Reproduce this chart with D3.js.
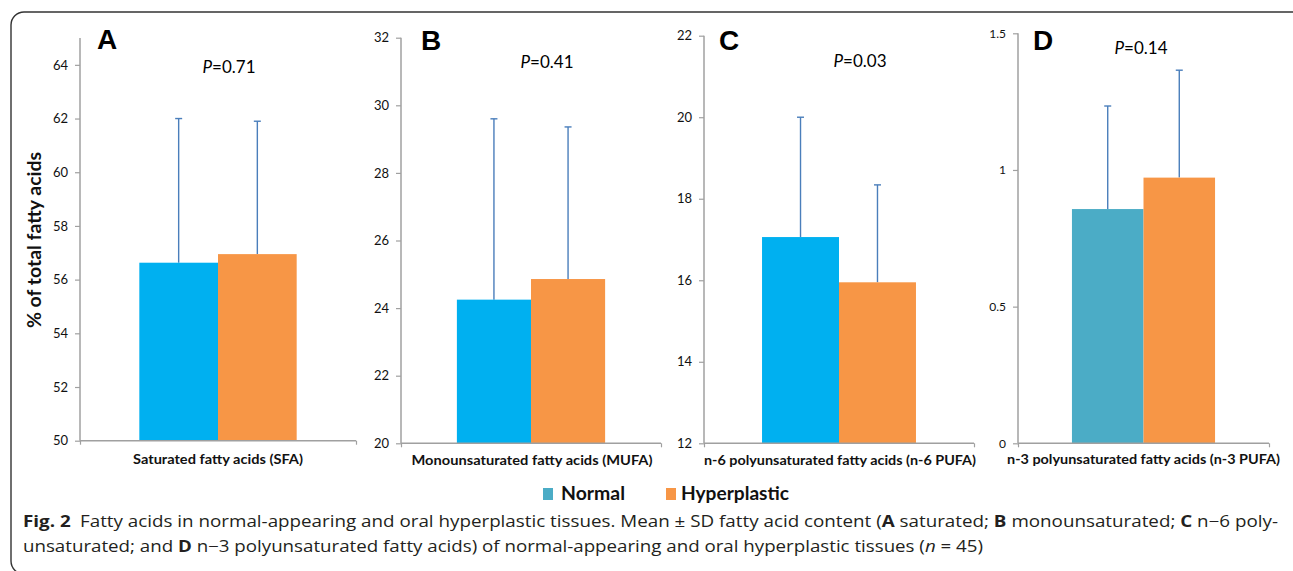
<!DOCTYPE html>
<html>
<head>
<meta charset="utf-8">
<script src="https://cdn.jsdelivr.net/npm/d3@7/dist/d3.min.js"></script>
<style>
  html, body { margin: 0; padding: 0; background: #fff; }
  svg { display: block; }
</style>
</head>
<body>
<svg id="chart" width="1293" height="571"></svg>
<script>
// ---------- data ----------
const categories = [
  "Saturated fatty acids (SFA)",
  "Monounsaturated fatty acids (MUFA)",
  "n-6 polyunsaturated fatty acids (n-6 PUFA)",
  "n-3 polyunsaturated fatty acids (n-3 PUFA)"
];
const panelLetters = ["A", "B", "C", "D"];
const pValues = ["0.71", "0.41", "0.03", "0.14"];
const seriesNames = ["Normal", "Hyperplastic"];
const normalMean = [56.63, 24.25, 17.06, 0.857];
const normalSD = [5.37, 5.35, 2.94, 0.377];
const hyperMean = [56.95, 24.86, 15.95, 0.972];
const hyperSD = [4.95, 4.50, 2.39, 0.393];
const yDomains = [[50, 65], [20, 32], [12, 22], [0, 1.5]];
const yTicks = [
  [50, 52, 54, 56, 58, 60, 62, 64],
  [20, 22, 24, 26, 28, 30, 32],
  [12, 14, 16, 18, 20, 22],
  [0, 0.5, 1, 1.5]
];
const yTitle = "% of total fatty acids";

// ---------- layout (positions/styles) ----------
const layout = [
  { x0: 80,   x1: 356,  yTop: 38.0, yBot: 440.7, letter: [97, 49],   p: [229, 73], xlab: [218, 464],  xlabW: 170, tick: 13 },
  { x0: 401,  x1: 661,  yTop: 37.7, yBot: 443.3, letter: [421, 50],  p: [547, 68], xlab: [532, 465],  xlabW: 241, tick: 13 },
  { x0: 704,  x1: 974,  yTop: 35.7, yBot: 443.3, letter: [719, 49.5], p: [860, 67], xlab: [840, 465], xlabW: 272, tick: 13 },
  { x0: 1018, x1: 1269, yTop: 33.3, yBot: 443.3, letter: [1033, 50], p: [1141, 54], xlab: [1143.5, 464], xlabW: 273, tick: 12 }
];
const normalColors = ["#00b0f0", "#00b0f0", "#00b0f0", "#4bacc6"];
const hyperColor = "#f79646";
const errColor = "#4a7ebb";
const axisColor = "#a0a0a0";
const chartFont = "Lato, 'Open Sans', sans-serif";

const svg = d3.select("#chart");

// outer rounded border
svg.append("rect")
  .attr("x", 11).attr("y", 12).attr("width", 1300).attr("height", 562)
  .attr("rx", 13).attr("ry", 13)
  .attr("fill", "none").attr("stroke", "#333").attr("stroke-width", 1.4);

categories.forEach((cat, i) => {
  const L = layout[i];
  const g = svg.append("g");
  const y = d3.scaleLinear().domain(yDomains[i]).range([L.yBot, L.yTop]);
  const x = d3.scaleBand().domain(seriesNames).range([L.x0, L.x1])
    .paddingInner(0).paddingOuter(0.754);

  // y axis
  const yAxis = d3.axisLeft(y).tickValues(yTicks[i]).tickSize(5).tickPadding(7)
    .tickFormat(d => d3.format("")(d));
  const ya = g.append("g").attr("transform", `translate(${L.x0},0)`).call(yAxis);
  ya.select(".domain").attr("stroke", axisColor).attr("stroke-width", 1.5)
    .attr("d", `M0,${L.yTop}V${L.yBot}`);
  ya.selectAll(".tick line").attr("stroke", axisColor).attr("stroke-width", 1.2);
  ya.selectAll(".tick text").attr("fill", "#111")
    .style("font-family", chartFont).style("font-size", L.tick + "px");

  // bars
  const vals = [
    { s: "Normal", m: normalMean[i], sd: normalSD[i], c: normalColors[i] },
    { s: "Hyperplastic", m: hyperMean[i], sd: hyperSD[i], c: hyperColor }
  ];
  // error bars (upper only; behind bars)
  vals.forEach(v => {
    const cx = x(v.s) + x.bandwidth() / 2;
    g.append("line").attr("x1", cx).attr("x2", cx)
      .attr("y1", y(v.m)).attr("y2", y(v.m + v.sd))
      .attr("stroke", errColor).attr("stroke-width", 1.4);
    g.append("line").attr("x1", cx - 3.5).attr("x2", cx + 3.5)
      .attr("y1", y(v.m + v.sd)).attr("y2", y(v.m + v.sd))
      .attr("stroke", errColor).attr("stroke-width", 1.4);
  });
  g.selectAll("rect.bar").data(vals).enter().append("rect")
    .attr("class", "bar")
    .attr("x", d => x(d.s)).attr("width", x.bandwidth())
    .attr("y", d => y(d.m)).attr("height", d => y(yDomains[i][0]) - y(d.m))
    .attr("fill", d => d.c);

  // x axis
  const xs = d3.scaleLinear().domain([0, 1]).range([L.x0, L.x1]);
  const xAxis = d3.axisBottom(xs).tickValues([0, 1]).tickSize(4).tickFormat("");
  const xa = g.append("g").attr("transform", `translate(0,${L.yBot})`).call(xAxis);
  xa.select(".domain").attr("stroke", axisColor).attr("stroke-width", 1.5)
    .attr("d", `M${L.x0},0H${L.x1}`);
  xa.selectAll(".tick line").attr("stroke", axisColor).attr("stroke-width", 1.2);

  // x label
  g.append("text").attr("x", L.xlab[0]).attr("y", L.xlab[1])
    .attr("text-anchor", "middle")
    .attr("textLength", L.xlabW).attr("lengthAdjust", "spacingAndGlyphs")
    .style("font-family", chartFont).style("font-weight", "bold").style("font-size", "13.5px")
    .attr("fill", "#111").text(cat);

  // panel letter
  g.append("text").attr("x", L.letter[0]).attr("y", L.letter[1])
    .style("font-family", "'Liberation Sans', Arial, sans-serif")
    .style("font-weight", "bold").style("font-size", "28px")
    .attr("fill", "#000").text(panelLetters[i]);

  // P value
  const pt = g.append("text").attr("x", L.p[0]).attr("y", L.p[1])
    .attr("text-anchor", "middle")
    .style("font-family", chartFont).style("font-size", "17px").attr("fill", "#000");
  pt.append("tspan").style("font-style", "italic").text("P");
  pt.append("tspan").text("=" + pValues[i]);
});

// y title
svg.append("text")
  .attr("transform", "translate(41,240) rotate(-90)")
  .attr("text-anchor", "middle")
  .attr("textLength", 176).attr("lengthAdjust", "spacingAndGlyphs")
  .style("font-family", chartFont).style("font-weight", "bold").style("font-size", "18px")
  .attr("fill", "#111").text(yTitle);

// legend
const legend = [
  { name: seriesNames[0], color: normalColors[3], sx: 543, tx: 561, tw: 64 },
  { name: seriesNames[1], color: hyperColor, sx: 666, tx: 681, tw: 108 }
];
legend.forEach(l => {
  svg.append("rect").attr("x", l.sx).attr("y", 488).attr("width", 10).attr("height", 12)
    .attr("fill", l.color);
  svg.append("text").attr("x", l.tx).attr("y", 500)
    .attr("textLength", l.tw).attr("lengthAdjust", "spacingAndGlyphs")
    .style("font-family", chartFont).style("font-weight", "bold").style("font-size", "18px")
    .attr("fill", "#111").text(l.name);
});

// caption
const capFont = "'Open Sans', 'Noto Sans', sans-serif";
const cap1 = svg.append("text").attr("x", 23).attr("y", 527)
  .attr("textLength", 1255).attr("lengthAdjust", "spacingAndGlyphs")
  .style("font-family", capFont).style("font-size", "16px").attr("fill", "#231f20");
cap1.append("tspan").style("font-weight", "bold").text("Fig. 2");
cap1.append("tspan").text("\u2002Fatty acids in normal-appearing and oral hyperplastic tissues. Mean \u00b1 SD fatty acid content (");
cap1.append("tspan").style("font-weight", "bold").text("A");
cap1.append("tspan").text(" saturated; ");
cap1.append("tspan").style("font-weight", "bold").text("B");
cap1.append("tspan").text(" monounsaturated; ");
cap1.append("tspan").style("font-weight", "bold").text("C");
cap1.append("tspan").text(" n\u22126 poly-");

const cap2 = svg.append("text").attr("x", 23).attr("y", 552)
  .attr("textLength", 960).attr("lengthAdjust", "spacingAndGlyphs")
  .style("font-family", capFont).style("font-size", "16px").attr("fill", "#231f20");
cap2.append("tspan").text("unsaturated; and ");
cap2.append("tspan").style("font-weight", "bold").text("D");
cap2.append("tspan").text(" n\u22123 polyunsaturated fatty acids) of normal-appearing and oral hyperplastic tissues (");
cap2.append("tspan").style("font-style", "italic").text("n");
cap2.append("tspan").text(" = 45)");
</script>
</body>
</html>
